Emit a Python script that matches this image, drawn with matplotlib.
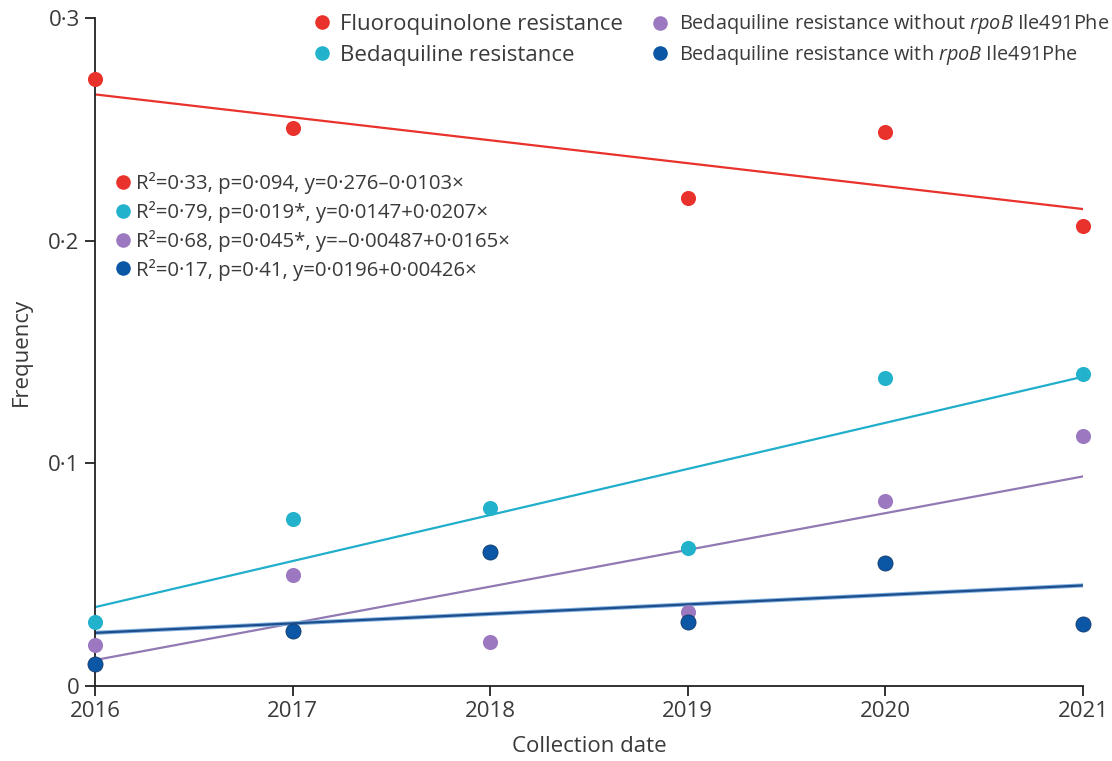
import numpy as np
import matplotlib.pyplot as plt
from matplotlib.lines import Line2D

plt.rcParams['font.family'] = ['Open Sans', 'DejaVu Sans']
plt.rcParams['mathtext.fontset'] = 'custom'
plt.rcParams['mathtext.rm'] = 'Open Sans'
plt.rcParams['mathtext.it'] = 'Open Sans:italic'

TXT = "#3a3a3a"

years = [2016, 2017, 2018, 2019, 2020, 2021]

# observed frequencies per collection year (no fluoroquinolone value for 2018)
fq_years = [2016, 2017, 2019, 2020, 2021]
fq_freq = [0.2726, 0.2506, 0.2191, 0.2488, 0.2066]
bdq_freq = [0.0287, 0.0750, 0.0799, 0.0620, 0.1383, 0.1401]
bdq_wo_freq = [0.0184, 0.0499, 0.0198, 0.0332, 0.0831, 0.1123]
bdq_w_freq = [0.0099, 0.0247, 0.0602, 0.0287, 0.0552, 0.0278]

# regression fits: y = a + b*x, with x = 1 for 2016 ... 6 for 2021
fits = {
    "fq": (0.276, -0.0103),
    "bdq": (0.0147, 0.0207),
    "bdq_wo": (-0.00487, 0.0165),
    "bdq_w": (0.0196, 0.00426),
}
fit_labels = [
    "R²=0·33, p=0·094, y=0·276–0·0103×",
    "R²=0·79, p=0·019*, y=0·0147+0·0207×",
    "R²=0·68, p=0·045*, y=–0·00487+0·0165×",
    "R²=0·17, p=0·41, y=0·0196+0·00426×",
]
series_labels = [
    "Fluoroquinolone resistance",
    "Bedaquiline resistance",
    r"Bedaquiline resistance without $\it{rpoB}$ Ile491Phe",
    r"Bedaquiline resistance with $\it{rpoB}$ Ile491Phe",
]

c_fq = "#e8322b"
c_bdq = "#22b2cc"
c_wo = "#9b78c0"
c_w = "#0c56a6"
line_cols = {"fq": "#e8322b", "bdq": "#21aecb", "bdq_wo": "#9179b3", "bdq_w": "#1e4f8c"}

FS = 16
fig = plt.figure(figsize=(11.12, 7.61), dpi=100)
ax = fig.add_axes([0.0854, 0.0986, 0.8886, 0.8777])

x_idx = np.array([y - 2015 for y in years])
for key in ["fq", "bdq", "bdq_wo", "bdq_w"]:
    a, b = fits[key]
    if key == "bdq_w":
        # light halo under the dark fit line
        ax.plot(years, a + b * x_idx, color="#7fb0e0", lw=3.0, zorder=2)
    ax.plot(years, a + b * x_idx, color=line_cols[key], lw=1.6, zorder=2)

ms = 118
ax.scatter(fq_years, fq_freq, s=ms, color=c_fq, zorder=3, clip_on=False, lw=0)
ax.scatter(years, bdq_freq, s=ms, color=c_bdq, zorder=3, clip_on=False, lw=0)
ax.scatter(years, bdq_wo_freq, s=ms, color=c_wo, zorder=3, clip_on=False, lw=0)
ax.scatter(years, bdq_w_freq, s=ms, color=c_w, zorder=4, clip_on=False,
           edgecolor="#123a6a", lw=0.6)

ax.set_xlim(2016, 2021)
ax.set_ylim(0, 0.3)
ax.set_xticks(years)
ax.set_xticklabels([str(y) for y in years])
ax.set_yticks([0, 0.1, 0.2, 0.3])
ax.set_yticklabels(["0", "0·1", "0·2", "0·3"])
for s in ["top", "right"]:
    ax.spines[s].set_visible(False)
for s in ["left", "bottom"]:
    ax.spines[s].set_color("#222222")
    ax.spines[s].set_linewidth(1.3)
ax.tick_params(axis="both", colors="#222222", labelcolor=TXT, labelsize=FS,
               length=7, width=1.3, pad=4)
ax.set_xlabel("Collection date", fontsize=FS, color=TXT, labelpad=10)
ax.set_ylabel("Frequency", fontsize=FS, color=TXT, labelpad=12)

def dot(c):
    return Line2D([], [], marker="o", ls="none", markersize=10.5,
                  markerfacecolor=c, markeredgewidth=0)

cols = [c_fq, c_bdq, c_wo, c_w]

# series key, two columns
leg1 = ax.legend([dot(c) for c in cols[:2]], series_labels[:2], frameon=False,
                 loc="upper left", bbox_to_anchor=(0.2163, 1.0067), fontsize=FS,
                 handletextpad=0.21, labelspacing=0.45, handlelength=1.2,
                 borderaxespad=0, borderpad=0, labelcolor=TXT)
ax.add_artist(leg1)
leg2 = ax.legend([dot(c) for c in cols[2:]], series_labels[2:], frameon=False,
                 loc="upper left", bbox_to_anchor=(0.5594, 1.0083), fontsize=14.3,
                 handletextpad=0.37, labelspacing=0.325, handlelength=1.2,
                 borderaxespad=0, borderpad=0, labelcolor=TXT)
ax.add_artist(leg2)

# fit statistics
ax.legend([dot(c) for c in cols], fit_labels, frameon=False, loc="upper left",
          bbox_to_anchor=(0.0159, 0.7689), fontsize=14.7, handletextpad=0.04,
          labelspacing=0.33, handlelength=1.2, borderaxespad=0, borderpad=0,
          labelcolor=TXT)

fig.savefig("out.png", dpi=100)
